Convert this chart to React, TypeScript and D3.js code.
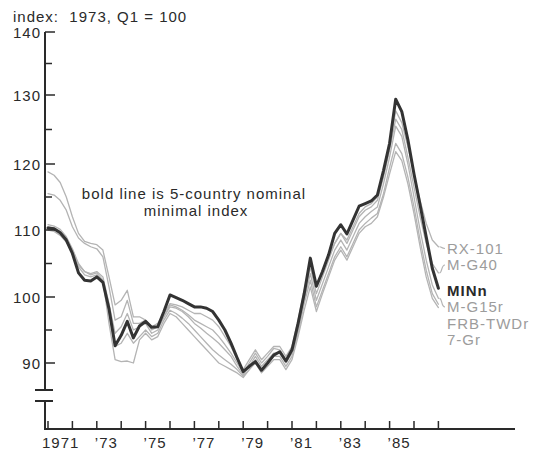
import React from "react";
import * as d3 from "d3";

// Quarterly index values, 1971 Q1 .. 1987 Q1 (1973 Q1 = 100)
const minN = [
  110.3, 110.2, 109.6, 108.5, 106.5, 103.6, 102.5, 102.4, 103.0, 102.2,
  98.2, 92.6, 94.2, 96.3, 93.8, 95.6, 96.3, 95.4, 95.5, 97.8,
  100.3, 99.9, 99.5, 99.0, 98.5, 98.5, 98.3, 97.8, 96.5, 95.0,
  93.0, 90.8, 88.7, 89.5, 90.2, 88.9, 90.0, 91.2, 91.7, 90.3,
  92.0, 96.0, 100.5, 105.8, 101.6, 103.8, 106.3, 109.5, 110.8, 109.4,
  111.5, 113.6, 114.0, 114.4, 115.3, 119.0, 123.0, 129.4, 127.6, 123.5,
  118.5, 113.8, 109.0, 104.3, 101.3,
];

const rx101 = [
  118.8, 118.3, 117.2, 115.0, 112.0, 109.5, 108.3, 108.0, 107.8, 107.0,
  103.0, 98.8, 99.5, 101.0, 97.0, 97.0, 96.5, 95.5, 96.0, 97.5,
  99.0, 98.8, 98.5, 98.0, 97.5, 97.5, 97.0, 96.5, 95.5, 94.0,
  92.5, 90.5, 89.0, 90.5, 92.0, 90.5, 91.5, 92.5, 92.5, 91.0,
  92.5, 96.5, 101.0, 105.0, 101.5, 104.0, 106.0, 108.0, 109.5, 108.5,
  110.5, 112.5, 113.5, 114.0, 115.0, 118.5, 122.5, 127.7, 126.0, 122.5,
  118.5, 114.5, 111.0, 108.5, 107.5,
];

const mg40 = [
  115.5, 115.3, 114.5, 113.0, 110.5, 108.8, 108.0, 107.5, 107.2, 106.0,
  101.5, 96.5, 97.0, 99.5, 96.0, 96.0, 96.5, 95.0, 95.5, 97.0,
  98.8, 98.5, 98.0, 97.3, 96.5, 96.0, 95.5, 95.0, 94.0, 92.8,
  91.5, 90.0, 88.5, 90.0, 91.5, 90.0, 91.0, 92.2, 92.0, 90.5,
  92.0, 95.5, 100.0, 104.5, 100.5, 103.0, 105.5, 108.0, 109.5, 108.0,
  110.0, 112.0, 113.0, 113.5, 114.5, 118.0, 122.0, 126.5, 125.0, 121.0,
  116.5, 112.0, 108.0, 105.0, 103.6,
];

const mg15r = [
  110.8, 110.6, 110.1, 109.0, 107.2, 105.0, 103.8, 103.5, 103.8, 103.0,
  99.0, 94.5, 95.5, 97.5, 95.0, 95.5, 96.0, 94.5, 95.0, 97.0,
  98.5, 98.3, 97.8, 97.0, 96.0, 95.3, 94.5, 93.8, 93.0, 92.0,
  91.0, 89.5, 88.2, 89.5, 91.0, 89.5, 90.5, 91.5, 91.5, 90.0,
  91.5, 95.0, 99.5, 103.5, 99.5, 102.0, 104.5, 107.0, 108.5, 107.0,
  109.0, 111.0, 112.0, 112.8, 113.5, 117.0, 121.0, 125.5, 124.0, 120.0,
  115.0, 110.0, 105.5, 101.8, 99.8,
];

const frbTwdr = [
  110.0, 109.8, 109.2, 108.2, 106.5, 104.5, 103.3, 103.0, 103.3, 102.3,
  97.5, 92.5, 93.0, 94.5, 93.0, 94.0, 95.0, 94.0, 94.5, 96.5,
  98.0, 97.5, 96.8, 96.0, 95.0, 94.0, 93.0, 92.0, 91.2, 90.5,
  89.8, 89.0, 88.0, 89.0, 90.5, 89.0, 90.0, 91.0, 91.0, 89.5,
  91.0, 94.5, 99.0, 102.5, 98.5, 101.0, 103.5, 106.0, 107.5, 106.0,
  108.0, 110.0, 111.0, 111.8, 112.5, 115.5, 119.5, 123.0, 121.5, 118.0,
  113.5, 108.5, 104.0, 100.5, 98.9,
];

const gr7 = [
  110.5, 110.3, 109.8, 108.8, 107.0, 104.8, 103.8, 103.3, 103.6, 102.5,
  96.0, 90.5, 90.2, 90.3, 90.0, 93.5, 94.5, 93.5, 94.0, 96.0,
  97.5, 97.0, 96.0, 95.0, 94.0, 93.0, 92.0, 91.0, 90.0, 89.5,
  89.0, 88.5, 87.8, 89.0, 90.0, 88.5, 89.5, 90.5, 90.5, 89.0,
  90.5, 94.0, 98.0, 101.5, 97.8, 100.5, 103.0, 105.5, 107.0, 105.5,
  107.5, 109.5, 110.5, 111.0, 112.0, 115.0, 118.5, 121.8, 120.5, 117.0,
  112.5, 107.5, 103.0, 99.8, 98.4,
];

const firstYear = 1971;
const tickYears = d3.range(1971, 1988);
const labelYears = [1971, 1973, 1975, 1977, 1979, 1981, 1983, 1985];
const yearLabels = ["1971", "’73", "’75", "’77", "’79", "’81", "’83", "’85"];
const yTickValues = d3.range(90, 141, 5);
const yLabelValues = [90, 100, 110, 120, 130, 140];

const grayNames = ["RX-101", "M-G40", "M-G15r", "FRB-TWDr", "7-Gr"];
const grayData = [rx101, mg40, mg15r, frbTwdr, gr7];

const FONT = "'Liberation Sans', Arial, Helvetica, sans-serif";
const GRAY_LINE = "#b4b4b4";
const GRAY_TEXT = "#9c9c9c";
const INK = "#2a2a2a";

export default function App() {
  const width = 546;
  const height = 453;

  const x = d3.scaleLinear().domain([1971, 1987]).range([48, 438.4]);
  // hand-drawn axis: tick spacing is not perfectly even
  const y = d3
    .scaleLinear()
    .domain([90, 100, 110, 120, 130, 140])
    .range([363, 297, 230, 164, 95, 32]);

  const line = d3
    .line<number>()
    .x((_, i) => x(firstYear + i / 4))
    .y((d) => y(d))
    .curve(d3.curveLinear);

  const axisX = 45;
  const baseY = 429;
  const breakTop = 390;
  const breakBottom = 401;

  const endX = x(firstYear + (minN.length - 1) / 4);
  const labelX = 447;

  // label rows on the right, top to bottom
  const rightLabels = [
    { name: "RX-101", data: rx101, y: 253.5, leader: true },
    { name: "M-G40", data: mg40, y: 270, leader: true },
    { name: "MINn", data: minN, y: 295.5, leader: false, bold: true },
    { name: "M-G15r", data: mg15r, y: 312, leader: true },
    { name: "FRB-TWDr", data: frbTwdr, y: 328.5, leader: false },
    { name: "7-Gr", data: gr7, y: 345, leader: false },
  ];

  return (
    <div style={{ position: "absolute", left: 0, top: 0 }}>
      <svg width={width} height={height} style={{ display: "block", background: "#fff" }}>
        <g fontFamily={FONT} fontSize={15} letterSpacing={1}>
          <text x={13} y={22} fill={INK} style={{ whiteSpace: "pre" }}>
            {"index:  1973, Q1 = 100"}
          </text>

          {/* gray comparison series */}
          {grayData.map((s, k) => (
            <path
              key={grayNames[k]}
              d={line(s) || ""}
              fill="none"
              stroke={GRAY_LINE}
              strokeWidth={1.3}
              strokeLinejoin="round"
              strokeLinecap="round"
            />
          ))}

          {/* bold nominal index */}
          <path
            d={line(minN) || ""}
            fill="none"
            stroke="#333"
            strokeWidth={3}
            strokeLinejoin="round"
            strokeLinecap="round"
          />

          {/* y axis */}
          <line x1={axisX} x2={axisX} y1={y(140)} y2={breakTop} stroke={INK} strokeWidth={2} />
          <line x1={axisX} x2={axisX} y1={breakBottom} y2={baseY} stroke={INK} strokeWidth={2} />
          <line x1={35} x2={53} y1={breakTop} y2={breakTop} stroke={INK} strokeWidth={2} />
          <line x1={35} x2={53} y1={breakBottom} y2={breakBottom} stroke={INK} strokeWidth={2} />
          {yTickValues.map((v) => (
            <line
              key={v}
              x1={axisX}
              x2={axisX + (v % 10 === 0 ? 10 : 7)}
              y1={y(v)}
              y2={y(v)}
              stroke={INK}
              strokeWidth={1.5}
            />
          ))}
          {yLabelValues.map((v) => (
            <text key={v} x={41} y={y(v) + 5.5} textAnchor="end" fill={INK}>
              {v}
            </text>
          ))}

          {/* x axis */}
          <line x1={axisX - 1} x2={515} y1={baseY} y2={baseY} stroke={INK} strokeWidth={1.8} />
          {tickYears.map((yr) => (
            <line
              key={yr}
              x1={x(yr)}
              x2={x(yr)}
              y1={baseY}
              y2={baseY - 8}
              stroke={INK}
              strokeWidth={1.5}
            />
          ))}
          {labelYears.map((yr, i) => (
            <text key={yr} x={i === 0 ? 42 : x(yr) - 2} y={448} fill={INK}>
              {yearLabels[i]}
            </text>
          ))}

          {/* annotation */}
          <text x={194} y={199} textAnchor="middle" fill={INK}>
            bold line is 5-country nominal
          </text>
          <text x={196} y={216} textAnchor="middle" fill={INK}>
            minimal index
          </text>

          {/* series labels with leaders */}
          {rightLabels.map((l) => {
            const yEnd = y(l.data[l.data.length - 1]);
            const yTarget = l.y - 5;
            return (
              <g key={l.name}>
                {l.leader && (
                  <path
                    d={`M ${endX + 1} ${yEnd} C ${endX + 4} ${yEnd} ${labelX - 6} ${yTarget} ${labelX - 2} ${yTarget}`}
                    fill="none"
                    stroke={GRAY_LINE}
                    strokeWidth={1.2}
                  />
                )}
                <text
                  x={labelX}
                  y={l.y}
                  fill={l.bold ? INK : GRAY_TEXT}
                  fontWeight={l.bold ? 700 : 400}
                >
                  {l.name}
                </text>
              </g>
            );
          })}
        </g>
      </svg>
    </div>
  );
}
